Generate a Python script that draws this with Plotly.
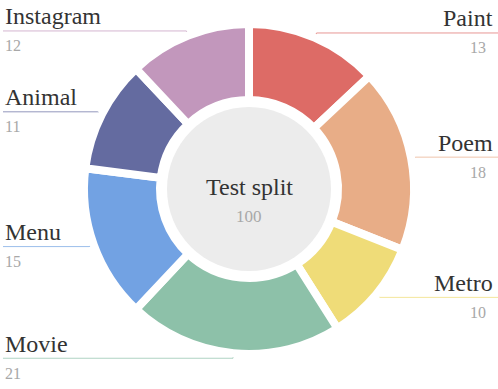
import math
import plotly.graph_objects as go

# ---- data ----
labels = ["Paint", "Poem", "Metro", "Movie", "Menu", "Animal", "Instagram"]
values = [13, 18, 10, 21, 15, 11, 12]
colors = ["#dd6b66", "#e8ad87", "#efdc78", "#8dc1a9", "#72a2e3", "#646ba0", "#c297bc"]
line_colors = ["rgba(221,107,102,0.7)", "rgba(232,173,135,0.7)", "rgba(239,220,120,0.75)",
               "rgba(141,193,169,0.7)", "rgba(114,162,227,0.7)", "rgba(100,107,160,0.7)",
               "rgba(194,151,188,0.7)"]
center_title = "Test split"
total = sum(values)

# ---- geometry (pixels) ----
W, H = 498, 389
CX, CY = 249, 189
R_OUT = 161          # visible outer radius
GAP = 8              # white gap between slices
R_PIE = R_OUT + GAP / 2
R_IN_VIS = 93
hole = (R_IN_VIS - GAP / 2) / R_PIE
R_CENTER = 82
LEAD = 9

FONT = "Liberation Serif"

fig = go.Figure()

# leader lines + labels
annotations = []
cum = 0
for lab, v, lc in zip(labels, values, line_colors):
    mid = (cum + v / 2) / total * 2 * math.pi  # clockwise from 12 o'clock
    cum += v
    s, c = math.sin(mid), math.cos(mid)
    x0, y0 = CX + (R_OUT - 6) * s, CY - (R_OUT - 6) * c
    x1, y1 = CX + (R_OUT + LEAD) * s, CY - (R_OUT + LEAD) * c
    right = s > 0
    x2 = W if right else 3
    fig.add_trace(go.Scatter(x=[x0, x1, x2], y=[y0, y1, y1], mode="lines",
                             line=dict(color=lc, width=1), hoverinfo="skip",
                             showlegend=False))
    annotations.append(dict(x=495 if right else 3, y=y1 - 14.6, xref="x", yref="y",
                            text=lab, showarrow=False,
                            xanchor="right" if right else "left", yanchor="middle",
                            font=dict(family=FONT, size=24, color="#333333")))
    annotations.append(dict(x=488 if right else 3, y=y1 + 14.9, xref="x", yref="y",
                            text=str(v), showarrow=False,
                            xanchor="right" if right else "left", yanchor="middle",
                            font=dict(family=FONT, size=16, color="#a8a8a8")))

fig.add_trace(go.Pie(
    labels=labels, values=values, sort=False, direction="clockwise", rotation=0,
    hole=hole, textinfo="none", hoverinfo="label+value",
    marker=dict(colors=colors, line=dict(color="white", width=GAP)),
    domain=dict(x=[(CX - R_PIE) / W, (CX + R_PIE) / W],
                y=[(H - CY - R_PIE) / H, (H - CY + R_PIE) / H]),
    showlegend=False,
))

annotations.append(dict(x=CX, y=186.9, xref="x", yref="y", text=center_title,
                        showarrow=False, xanchor="center", yanchor="middle",
                        font=dict(family=FONT, size=24, color="#333333")))
annotations.append(dict(x=CX, y=216.6, xref="x", yref="y", text=str(total),
                        showarrow=False, xanchor="center", yanchor="middle",
                        font=dict(family=FONT, size=17, color="#a8a8a8")))

fig.update_layout(
    width=W, height=H, autosize=False,
    margin=dict(l=0, r=0, t=0, b=0, pad=0),
    paper_bgcolor="white", plot_bgcolor="white",
    xaxis=dict(range=[0, W], visible=False, fixedrange=True),
    yaxis=dict(range=[H, 0], visible=False, fixedrange=True),
    shapes=[dict(type="circle", xref="x", yref="y",
                 x0=CX - R_CENTER, x1=CX + R_CENTER, y0=CY - R_CENTER, y1=CY + R_CENTER,
                 fillcolor="#ececec", line=dict(width=0), layer="below")],
    annotations=annotations,
)

fig.write_html("out.html", config={"displayModeBar": False},
               post_script="document.body.style.margin='0px';document.body.style.overflow='hidden';")
